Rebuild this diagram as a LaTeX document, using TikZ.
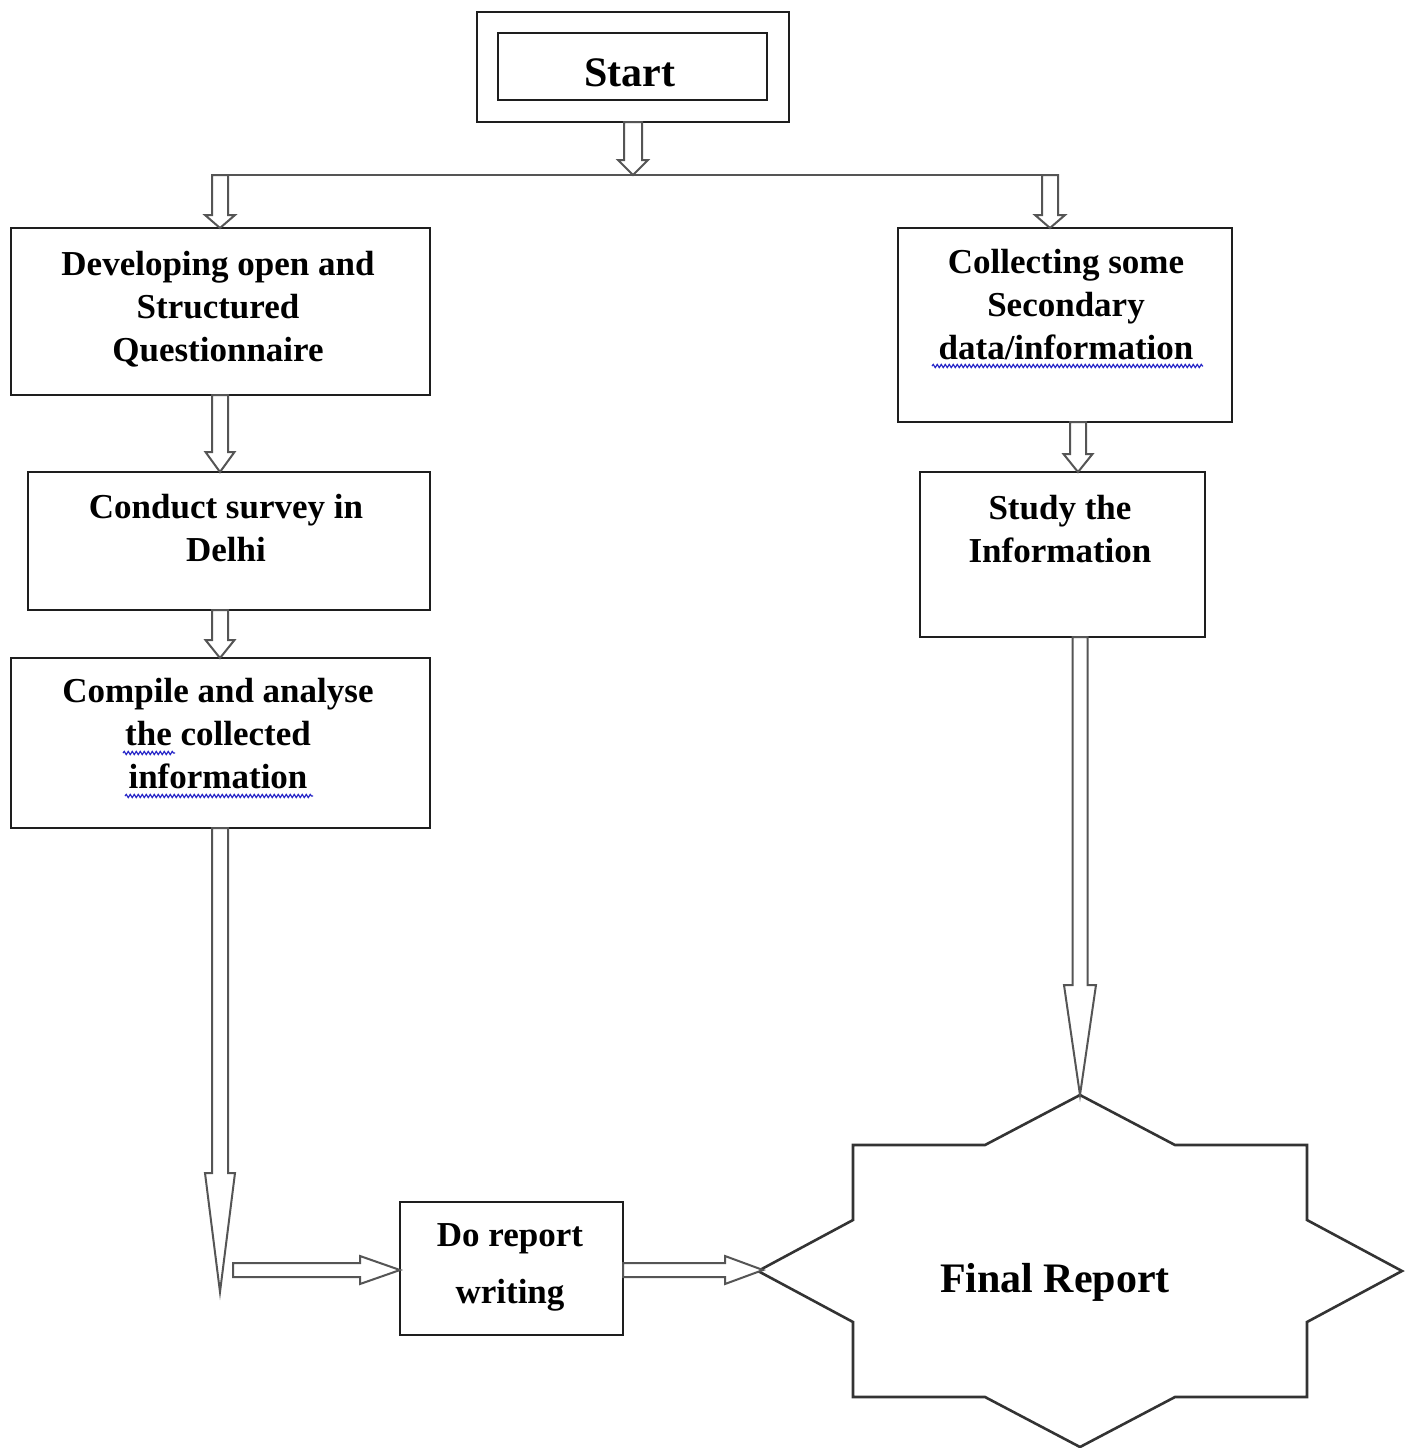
\documentclass[tikz,border=0pt]{standalone}
\usepackage{fontspec}
\setmainfont{Liberation Serif}
\usetikzlibrary{calc,decorations.pathmorphing}
\definecolor{boxc}{HTML}{1E1E1E}
\definecolor{arrc}{HTML}{555555}
\definecolor{starc}{HTML}{333333}
\definecolor{spell}{HTML}{2828C8}
% block (hollow) arrow: from, to, half shaft width, half head width, head length
\newcommand{\blkarr}[5]{%
  \coordinate (bah) at ($(#2)!#5!(#1)$);
  \draw[arrowline] ($(#1)!#3!90:(#2)$) -- ($(bah)!#3!90:(#2)$) -- ($(bah)!#4!90:(#2)$) -- (#2)
     -- ($(bah)!#4!-90:(#2)$) -- ($(bah)!#3!-90:(#2)$) -- ($(#1)!#3!-90:(#2)$) -- cycle;}
\begin{document}
\begin{tikzpicture}[x=0.5pt,y=-0.5pt,
  box/.style={draw=boxc,line width=1.45pt,fill=white,inner sep=0pt,outer sep=0pt},
  sz/.style 2 args={minimum width=#1*0.5pt,minimum height=#2*0.5pt},
  txt/.style={align=center,inner sep=0pt,font=\fontsize{17.5}{21.5}\selectfont\bfseries,
    execute at begin node=\strut,execute at end node=\strut},
  bigtxt/.style={inner sep=0pt,font=\fontsize{21}{25}\selectfont\bfseries,
    execute at begin node=\strut},
  arrowline/.style={draw=arrc,line width=1pt,fill=white,line join=miter},
  busline/.style={draw=arrc,line width=1.2pt},
  starline/.style={draw=starc,line width=1.3pt,line join=miter},
  spellline/.style={draw=spell,line width=0.6pt,decorate,
    decoration={snake,segment length=2pt,amplitude=0.8pt}}]
\fill[white] (0,0) rectangle (1409,1448);
\useasboundingbox (0,0) rectangle (1409,1448);

% Start
\node[box,sz={312}{110}] (startout) at (633,67) {};
\node[box,sz={269}{67}] (start) at (632.5,66.5) {};
\node[bigtxt] (starttxt) at (630,76) {Start};

% left column
\node[box,sz={419}{167}] (b1) at (220.5,311.5) {};
\node[txt] (t1) at (218,313) {Developing open and\\Structured\\Questionnaire};
\node[box,sz={402}{138}] (b2) at (229,541) {};
\node[txt] (t2) at (226,534) {Conduct survey in\\Delhi};
\node[box,sz={419}{170}] (b3) at (220.5,743) {};
\node[txt] (t3) at (218,740) {Compile and analyse\\the collected\\information};

% right column
\node[box,sz={334}{194}] (b4) at (1065,325) {};
\node[txt] (t4) at (1066,311) {Collecting some\\Secondary\\data/information};
\node[box,sz={285}{165}] (b5) at (1062.5,554.5) {};
\node[txt] (t5) at (1060,535) {Study the\\Information};

% spell-check wavy underlines
\draw[spellline] (123,753) -- (175,753);
\draw[spellline] (125,796) -- (313,796);
\draw[spellline] (932,366) -- (1203,366);

% report writing
\node[box,sz={223}{133}] (dr) at (511.5,1268.5) {};
\node[txt,font=\fontsize{17.5}{28.5}\selectfont\bfseries] (tdr) at (510,1272) {Do report\\writing};

% connectors coordinates
\coordinate (bus) at (startout.south |- 0,175);
\coordinate (busL) at (212,175);
\coordinate (busR) at (1058,175);
\coordinate (busA) at (220,175);
\coordinate (busB) at (1050,175);
\coordinate (a1e) at (busA |- b1.north);
\coordinate (b4n) at (busB |- b4.north);
\coordinate (a2s) at (busA |- b1.south);
\coordinate (a2e) at (busA |- b2.north);
\coordinate (a3s) at (busA |- b2.south);
\coordinate (a3e) at (busA |- b3.north);
\coordinate (a4s) at (busA |- b3.south);
\coordinate (a4e) at (220,1292);
\coordinate (h1s) at (233,1270);
\coordinate (h1e) at (dr.west |- h1s);
\coordinate (h2s) at (dr.east |- h1s);
\coordinate (h2e) at (763,1270);
\coordinate (r1s) at ([xshift=6.5pt]b4.south);
\coordinate (r1e) at (r1s |- b5.north);
\coordinate (r2s) at ([xshift=8.75pt]b5.south);

% Final report star
\coordinate (sc) at (1080,1271);
\draw[starline,shift={(sc)}] (0,-176) coordinate (stop) -- (95,-126) -- (227,-126) -- (227,-51)
  -- (322,0) coordinate (sright) -- (227,51) -- (227,126) -- (95,126) -- (0,176) coordinate (sbot)
  -- (-95,126) -- (-227,126) -- (-227,51) -- (-322,0) coordinate (sleft) -- (-227,-51)
  -- (-227,-126) -- (-95,-126) -- cycle;
\node[bigtxt] (fr) at (1055,1282) {Final Report};

% connectors
\draw[busline] (busL) -- (busR);
\blkarr{startout.south}{bus}{4.5pt}{7.5pt}{7.5pt}
\blkarr{busA}{a1e}{4pt}{7.5pt}{6.5pt}
\blkarr{busB}{b4n}{4pt}{7.5pt}{6.5pt}
\blkarr{a2s}{a2e}{4pt}{7.25pt}{10pt}
\blkarr{a3s}{a3e}{4pt}{7.25pt}{9pt}
\blkarr{a4s}{a4e}{4pt}{7.5pt}{59.5pt}
\blkarr{h1s}{h1e}{3.5pt}{7pt}{20pt}
\blkarr{h2s}{h2e}{3.5pt}{7pt}{19pt}
\blkarr{r1s}{r1e}{4pt}{7.25pt}{9pt}
\blkarr{r2s}{stop}{3.75pt}{8pt}{55pt}
\end{tikzpicture}
\end{document}
